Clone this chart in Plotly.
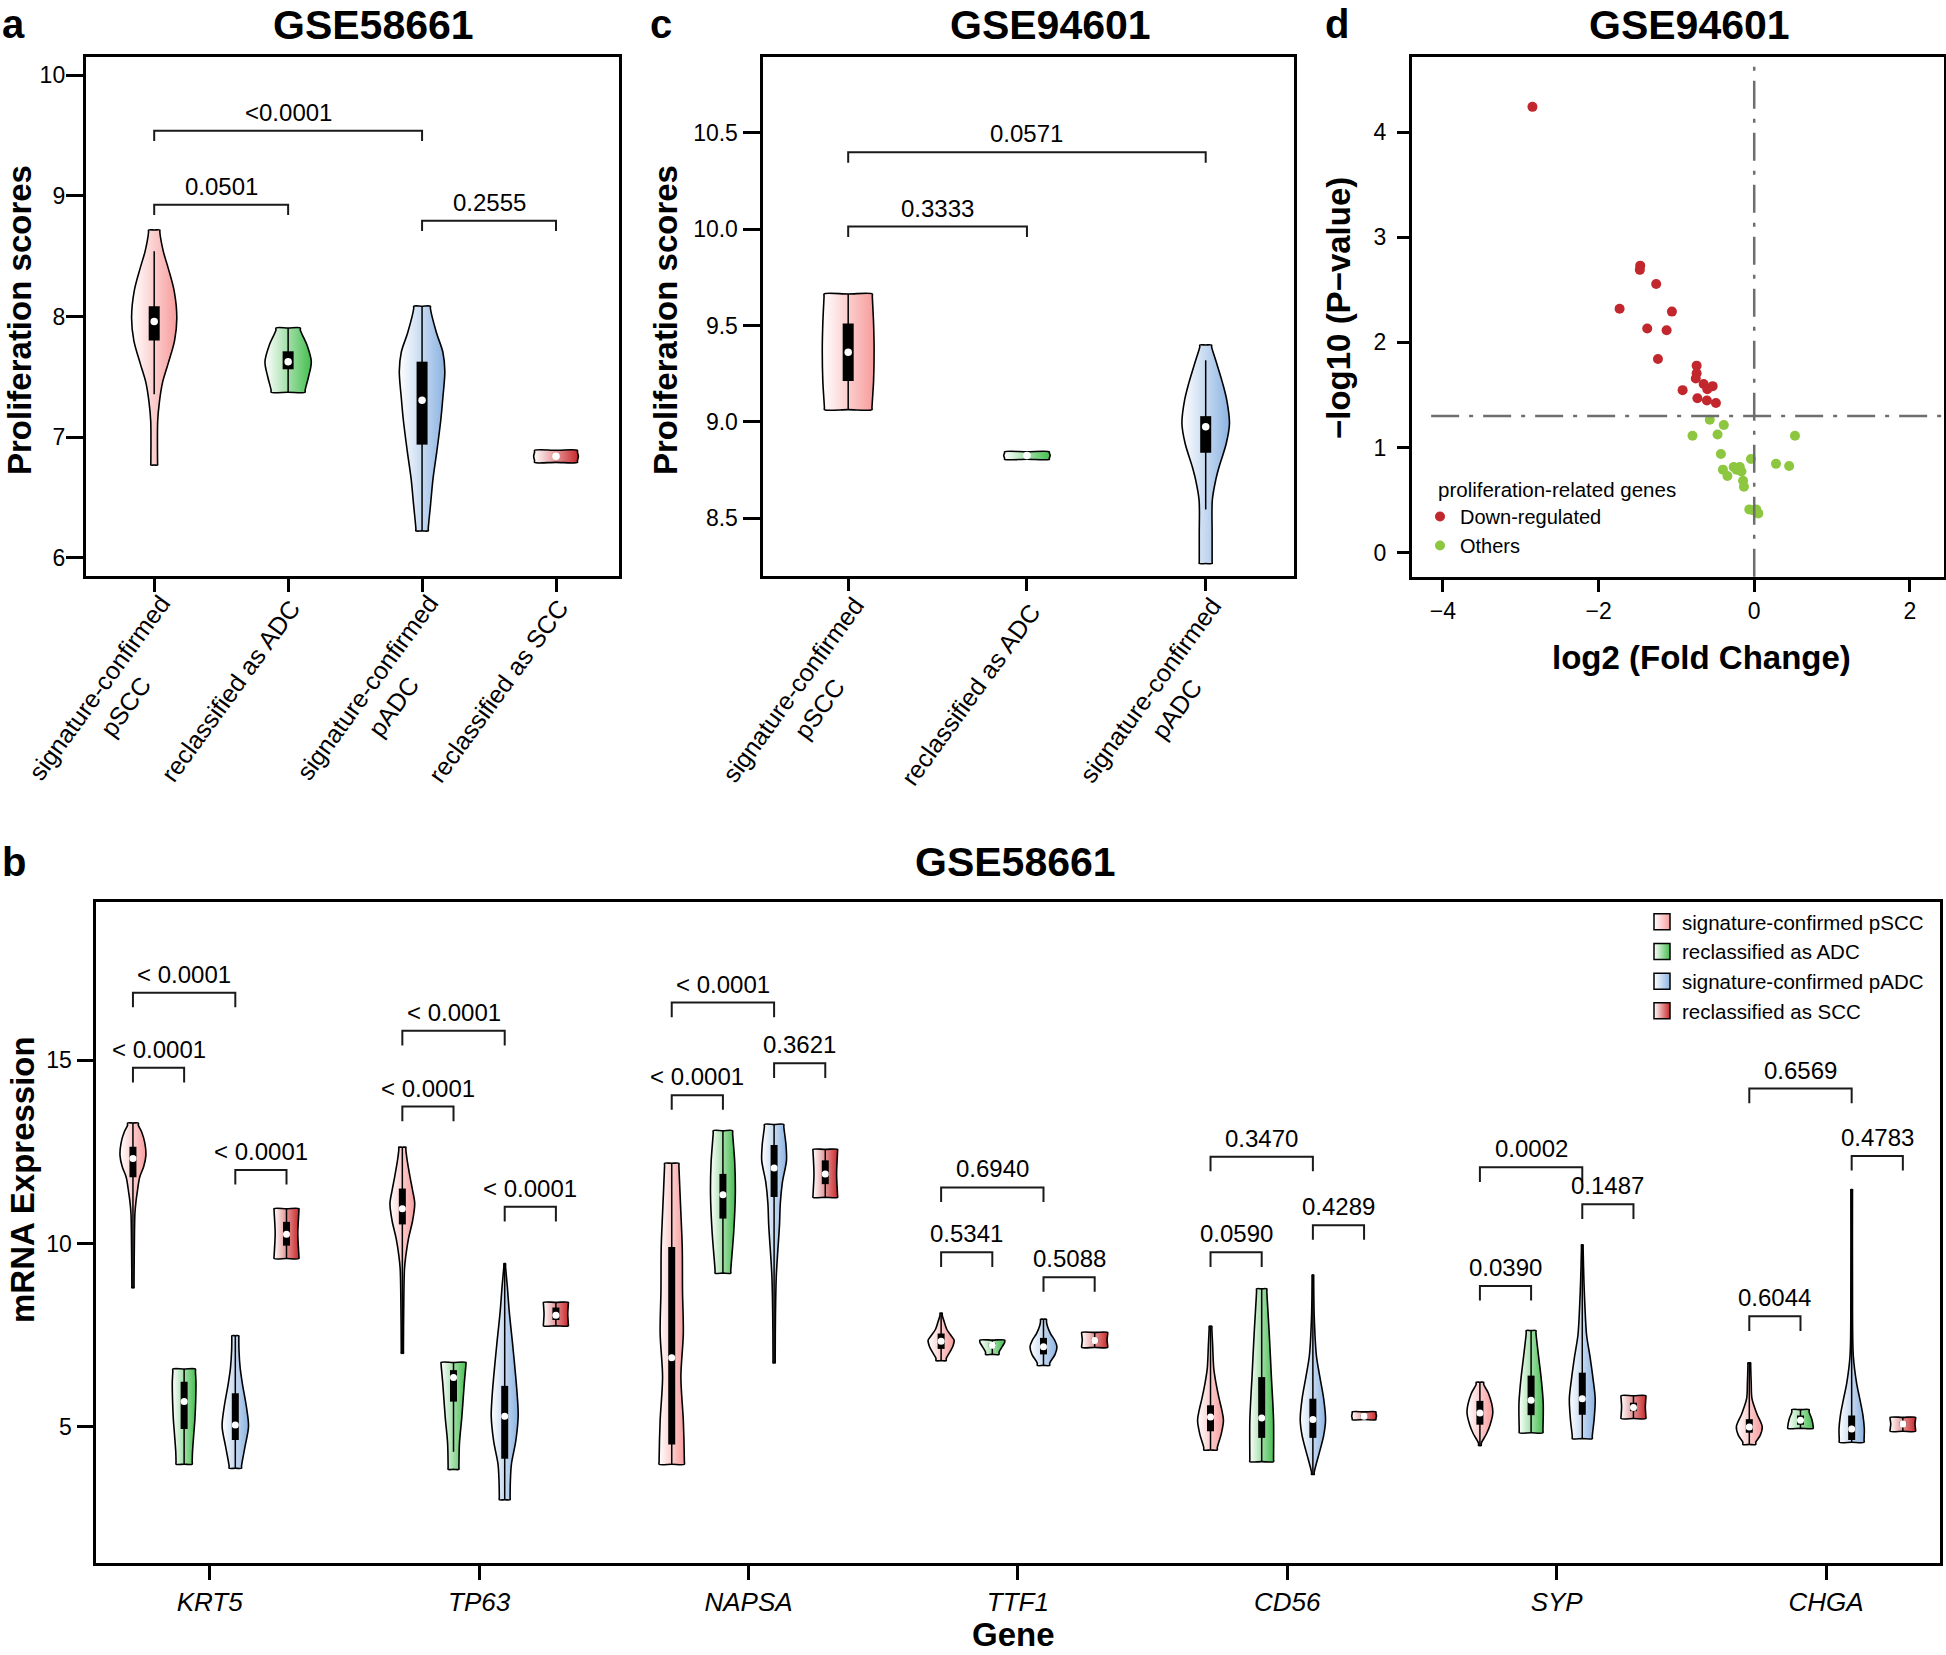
import plotly.graph_objects as go

W, H = 1946, 1655
FONT = "Liberation Sans, Arial, Helvetica, sans-serif"

GROUP_NAMES = ["signature-confirmed pSCC", "reclassified as ADC",
               "signature-confirmed pADC", "reclassified as SCC"]
GROUP_COLORS = ["#F89C9C", "#45BE50", "#8CB3E2", "#C9282B"]

# ---------------- Panel a : GSE58661 proliferation scores ----------------
A_GROUPS = ["signature-confirmed<br>pSCC", "reclassified as ADC",
            "signature-confirmed<br>pADC", "reclassified as SCC"]
A_VIOLIN_Y = [
    [8.717, 8.540, 8.403, 8.212, 7.991, 7.800, 7.609, 7.451, 7.292, 7.133, 6.768],
    [7.904, 7.768, 7.625, 7.498, 7.371],
    [8.085, 7.863, 7.705, 7.546, 7.324, 7.133, 6.879, 6.657, 6.435, 6.222],
    [6.890, 6.840, 6.790],
]
A_VIOLIN_HW = [
    [0.042, 0.068, 0.104, 0.149, 0.169, 0.152, 0.104, 0.062, 0.039, 0.026, 0.025],
    [0.091, 0.139, 0.173, 0.152, 0.127],
    [0.062, 0.108, 0.155, 0.170, 0.155, 0.139, 0.110, 0.082, 0.063, 0.046],
    [0.160, 0.167, 0.160],
]
A_Q1 = [7.800, 7.562, 6.937, 6.840]
A_MED = [7.958, 7.625, 7.305, 6.840]
A_Q3 = [8.085, 7.711, 7.625, 6.840]
A_WLO = [7.355, 7.371, 6.222, 6.840]
A_WHI = [8.540, 7.904, 8.085, 6.840]
A_PAIRS = [(1, 3), (1, 2), (3, 4)]
A_PLEVEL = [9.540, 8.927, 8.794]
A_PTEXT = ["<0.0001", "0.0501", "0.2555"]

# ---------------- Panel c : GSE94601 proliferation scores ----------------
C_GROUPS = ["signature-confirmed<br>pSCC", "reclassified as ADC",
            "signature-confirmed<br>pADC"]
C_VIOLIN_Y = [
    [9.664, 9.511, 9.372, 9.213, 9.064],
    [8.845, 8.826, 8.806],
    [9.399, 9.320, 9.200, 9.113, 8.992, 8.888, 8.767, 8.698, 8.594, 8.420, 8.265],
]
C_VIOLIN_HW = [
    [0.135, 0.142, 0.145, 0.142, 0.133],
    [0.125, 0.130, 0.125],
    [0.033, 0.056, 0.095, 0.118, 0.133, 0.115, 0.075, 0.056, 0.037, 0.036, 0.036],
]
C_Q1 = [9.213, 8.826, 8.840]
C_MED = [9.362, 8.826, 8.975]
C_Q3 = [9.511, 8.826, 9.030]
C_WLO = [9.064, 8.826, 8.546]
C_WHI = [9.664, 8.826, 9.320]
C_PAIRS = [(1, 3), (1, 2)]
C_PLEVEL = [10.399, 10.014]
C_PTEXT = ["0.0571", "0.3333"]

# ---------------- Panel d : volcano plot ----------------
D_DOWN_X = [-2.85, -1.465, -1.47, -1.26, -1.73, -1.058, -1.375, -1.126, -1.237, -0.740,
            -0.740, -0.751, -0.650, -0.534, -0.603, -0.920, -0.730, -0.608, -0.492]
D_DOWN_Y = [4.24, 2.73, 2.69, 2.556, 2.32, 2.293, 2.132, 2.115, 1.843, 1.779,
            1.707, 1.656, 1.605, 1.584, 1.554, 1.546, 1.469, 1.448, 1.423]
D_OTHER_X = [-0.571, -0.391, -0.793, -0.471, 0.524, -0.428, -0.042, 0.280, 0.449, -0.264,
             -0.185, -0.402, -0.227, -0.164, -0.344, -0.143, -0.132, -0.063, 0.026, 0.053, -0.011]
D_OTHER_Y = [1.265, 1.214, 1.113, 1.125, 1.113, 0.938, 0.892, 0.845, 0.824, 0.815,
             0.815, 0.790, 0.790, 0.773, 0.730, 0.684, 0.628, 0.412, 0.412, 0.374, 0.403]
D_P_CUTOFF = 1.301   # -log10(0.05)
D_FC_CUTOFF = 0.0

# ---------------- Panel b : GSE58661 mRNA expression ----------------
GENES = ["KRT5", "TP63", "NAPSA", "TTF1", "CD56", "SYP", "CHGA"]
B_VIOLIN_Y = {
    "KRT5": [[13.29, 13.05, 12.75, 12.40, 12.10, 11.81, 11.40, 11.13, 10.83, 9.80, 8.79],
             [6.57, 6.20, 5.72, 5.20, 4.81, 4.30, 3.97],
             [7.48, 7.09, 6.60, 6.18, 5.50, 5.00, 4.45, 3.86],
             [10.95, 10.27, 9.59]],
    "TP63": [[12.63, 12.27, 11.80, 11.45, 11.09, 10.62, 10.14, 9.67, 9.31, 8.13, 7.00],
             [6.75, 6.18, 5.27, 4.54, 3.83],
             [9.45, 8.80, 8.13, 7.20, 6.35, 5.80, 5.28, 4.60, 3.98, 3.50, 3.00],
             [8.39, 8.07, 7.75]],
    "NAPSA": [[12.19, 11.00, 9.90, 8.70, 7.54, 6.35, 5.17, 3.97],
              [13.08, 12.20, 11.33, 10.30, 9.19],
              [13.25, 12.70, 12.27, 11.68, 11.09, 10.50, 9.60, 9.08, 8.00, 6.74],
              [12.57, 11.90, 11.26]],
    "TTF1": [[8.10, 7.85, 7.65, 7.45, 7.36, 7.20, 7.05, 6.80],
             [7.36, 7.22, 6.97],
             [7.93, 7.75, 7.54, 7.35, 7.18, 6.97, 6.67],
             [7.57, 7.36, 7.16]],
    "CD56": [[7.74, 7.20, 6.59, 6.20, 5.76, 5.45, 5.17, 4.80, 4.36],
             [8.76, 7.54, 6.35, 5.17, 4.04],
             [9.14, 8.00, 6.94, 6.35, 5.76, 5.17, 4.75, 4.34, 3.69],
             [5.40, 5.28, 5.19]],
    "SYP": [[6.21, 5.90, 5.40, 5.05, 4.81, 4.48],
            [7.62, 6.90, 6.35, 5.64, 4.83],
            [9.96, 9.00, 8.25, 7.50, 6.94, 6.30, 5.76, 5.20, 4.67],
            [5.84, 5.53, 5.22]],
    "CHGA": [[6.74, 6.20, 5.76, 5.35, 4.99, 4.75, 4.51],
             [5.46, 5.20, 4.95],
             [11.47, 9.00, 6.94, 6.20, 5.76, 5.30, 4.93, 4.57],
             [5.25, 5.07, 4.87]],
}
B_VIOLIN_HW = {
    "KRT5": [[0.020, 0.032, 0.044, 0.048, 0.040, 0.025, 0.016, 0.011, 0.0074, 0.005, 0.004],
             [0.042, 0.044, 0.043, 0.040, 0.036, 0.031, 0.030],
             [0.013, 0.0136, 0.018, 0.026, 0.042, 0.049, 0.036, 0.023],
             [0.046, 0.042, 0.046]],
    "TP63": [[0.013, 0.018, 0.029, 0.038, 0.046, 0.038, 0.023, 0.013, 0.008, 0.005, 0.004],
             [0.046, 0.040, 0.031, 0.022, 0.020],
             [0.003, 0.010, 0.017, 0.030, 0.041, 0.047, 0.050, 0.041, 0.025, 0.021, 0.020],
             [0.046, 0.044, 0.046]],
    "NAPSA": [[0.0265, 0.033, 0.039, 0.040, 0.043, 0.034, 0.043, 0.047],
              [0.036, 0.044, 0.046, 0.040, 0.029],
              [0.036, 0.044, 0.046, 0.031, 0.023, 0.020, 0.012, 0.008, 0.005, 0.004],
              [0.0455, 0.042, 0.0455]],
    "TTF1": [[0.004, 0.012, 0.0213, 0.040, 0.0483, 0.044, 0.034, 0.019],
             [0.046, 0.040, 0.025],
             [0.011, 0.014, 0.026, 0.042, 0.050, 0.043, 0.023],
             [0.048, 0.046, 0.048]],
    "CD56": [[0.005, 0.008, 0.012, 0.020, 0.032, 0.042, 0.048, 0.040, 0.025],
             [0.019, 0.028, 0.036, 0.044, 0.044],
             [0.003, 0.005, 0.013, 0.026, 0.040, 0.047, 0.040, 0.026, 0.005],
             [0.044, 0.046, 0.044]],
    "SYP": [[0.014, 0.032, 0.048, 0.038, 0.025, 0.005],
            [0.018, 0.028, 0.037, 0.045, 0.044],
            [0.003, 0.006, 0.010, 0.016, 0.028, 0.040, 0.048, 0.044, 0.037],
            [0.046, 0.044, 0.046]],
    "CHGA": [[0.005, 0.007, 0.010, 0.028, 0.048, 0.040, 0.024],
             [0.032, 0.042, 0.047],
             [0.003, 0.003, 0.006, 0.018, 0.030, 0.042, 0.047, 0.046],
             [0.047, 0.045, 0.047]],
}
# box statistics per gene: [pSCC, ADC, pADC, SCC]
B_Q1 = {"KRT5": [11.81, 4.93, 4.63, 9.94], "TP63": [10.52, 5.68, 4.12, 7.91],
        "NAPSA": [4.51, 10.68, 11.27, 11.62], "TTF1": [7.12, 7.17, 6.97, 7.30],
        "CD56": [4.87, 4.69, 4.69, 5.25], "SYP": [5.05, 5.31, 5.32, 5.42],
        "CHGA": [4.83, 5.05, 4.63, 5.02]}
B_MED = {"KRT5": [12.32, 5.68, 5.04, 10.25], "TP63": [10.95, 6.34, 5.28, 8.04],
         "NAPSA": [6.88, 11.33, 12.06, 11.90], "TTF1": [7.33, 7.22, 7.18, 7.35],
         "CD56": [5.26, 5.23, 5.19, 5.28], "SYP": [5.37, 5.72, 5.76, 5.52],
         "CHGA": [4.99, 5.17, 4.93, 5.07]}
B_Q3 = {"KRT5": [12.64, 6.22, 5.91, 10.59], "TP63": [11.50, 6.54, 6.11, 8.25],
        "NAPSA": [9.90, 11.90, 12.69, 12.27], "TTF1": [7.54, 7.28, 7.42, 7.40],
        "CD56": [5.58, 6.35, 5.76, 5.31], "SYP": [5.70, 6.39, 6.47, 5.65],
        "CHGA": [5.20, 5.30, 5.30, 5.12]}
B_WLO = {"KRT5": [8.79, 3.97, 3.86, 9.59], "TP63": [7.00, 4.31, 3.00, 7.75],
         "NAPSA": [3.97, 9.19, 6.74, 11.26], "TTF1": [6.80, 6.97, 6.67, 7.16],
         "CD56": [4.36, 4.04, 3.69, 5.19], "SYP": [4.48, 4.83, 4.67, 5.22],
         "CHGA": [4.51, 4.95, 4.57, 4.87]}
B_WHI = {"KRT5": [13.29, 6.57, 7.48, 10.95], "TP63": [12.63, 6.75, 9.45, 8.39],
         "NAPSA": [12.19, 13.08, 13.25, 12.57], "TTF1": [8.10, 7.36, 7.93, 7.57],
         "CD56": [7.74, 8.76, 9.14, 5.40], "SYP": [6.21, 7.62, 9.96, 5.84],
         "CHGA": [6.74, 5.46, 11.47, 5.25]}
B_PAIRS = [(0, 2), (0, 1), (2, 3)]
B_PLEVEL = {"KRT5": [16.85, 14.80, 12.01], "TP63": [15.81, 13.74, 11.00],
            "NAPSA": [16.58, 14.05, 14.92], "TTF1": [11.53, 9.76, 9.08],
            "CD56": [12.37, 9.76, 10.50], "SYP": [12.08, 8.84, 11.07],
            "CHGA": [14.23, 8.01, 12.39]}
B_PTEXT = {"KRT5": ["< 0.0001", "< 0.0001", "< 0.0001"],
           "TP63": ["< 0.0001", "< 0.0001", "< 0.0001"],
           "NAPSA": ["< 0.0001", "< 0.0001", "0.3621"],
           "TTF1": ["0.6940", "0.5341", "0.5088"],
           "CD56": ["0.3470", "0.0590", "0.4289"],
           "SYP": ["0.0002", "0.0390", "0.1487"],
           "CHGA": ["0.6569", "0.6044", "0.4783"]}
B_OFFSETS = [-0.285, -0.095, 0.095, 0.285]

# ======================================================================
fig = go.Figure()
annotations = []


def px_x(v):
    return v / W


def px_y(v):
    return 1 - v / H


def add_violin(xa, ya, center, ys, hws, color, eps, box, med, whisk, boxw, dotsize):
    ys = list(ys)
    hws = list(hws)
    e = min(eps, 0.15 * (ys[0] - ys[-1]))
    rx, ry = [], []
    rx += [center + hws[0], center + hws[0]]
    ry += [ys[0], ys[0] - e]
    for y, h in zip(ys[1:-1], hws[1:-1]):
        rx.append(center + h)
        ry.append(y)
    rx += [center + hws[-1], center + hws[-1]]
    ry += [ys[-1] + e, ys[-1]]
    xs = [center] + rx + [center] + [2 * center - v for v in rx[::-1]] + [center]
    yv = [ys[0]] + ry + [ys[-1]] + ry[::-1] + [ys[0]]
    fig.add_trace(go.Scatter(
        x=xs, y=yv, xaxis=xa, yaxis=ya, mode="lines", fill="toself",
        line=dict(color="black", width=1.6, shape="spline", smoothing=0.9),
        fillgradient=dict(type="horizontal", colorscale=[[0, "#FFFFFF"], [1, color]]),
        hoverinfo="skip", showlegend=False))
    if whisk[1] > whisk[0]:
        fig.add_trace(go.Scatter(x=[center, center], y=list(whisk), xaxis=xa, yaxis=ya,
                                 mode="lines", line=dict(color="black", width=1.5),
                                 hoverinfo="skip", showlegend=False))
    if box[1] > box[0]:
        fig.add_trace(go.Scatter(x=[center, center], y=list(box), xaxis=xa, yaxis=ya,
                                 mode="lines", line=dict(color="black", width=boxw),
                                 hoverinfo="skip", showlegend=False))
    fig.add_trace(go.Scatter(x=[center], y=[med], xaxis=xa, yaxis=ya, mode="markers",
                             marker=dict(color="white", size=dotsize, line=dict(width=0)),
                             hoverinfo="skip", showlegend=False))


def add_bracket(xa, ya, x1, x2, level, leg, text, size, xref, yref):
    fig.add_trace(go.Scatter(x=[x1, x1, x2, x2], y=[level - leg, level, level, level - leg],
                             xaxis=xa, yaxis=ya, mode="lines",
                             line=dict(color="#1a1a1a", width=2),
                             hoverinfo="skip", showlegend=False))
    annotations.append(dict(x=(x1 + x2) / 2, y=level, xref=xref, yref=yref, text=text,
                            showarrow=False, xanchor="center", yanchor="bottom", yshift=3,
                            font=dict(size=size, family=FONT, color="black")))


# ---- panel a
for i in range(4):
    add_violin("x", "y", i + 1, A_VIOLIN_Y[i], A_VIOLIN_HW[i], GROUP_COLORS[i], 0.017,
               (A_Q1[i], A_Q3[i]), A_MED[i], (A_WLO[i], A_WHI[i]), 11, 7.5)
for (g1, g2), lv, t in zip(A_PAIRS, A_PLEVEL, A_PTEXT):
    add_bracket("x", "y", g1, g2, lv, 0.085, t, 24, "x", "y")

# ---- panel c
for i in range(3):
    add_violin("x2", "y2", i + 1, C_VIOLIN_Y[i], C_VIOLIN_HW[i], GROUP_COLORS[i], 0.01,
               (C_Q1[i], C_Q3[i]), C_MED[i], (C_WLO[i], C_WHI[i]), 11, 7.5)
for (g1, g2), lv, t in zip(C_PAIRS, C_PLEVEL, C_PTEXT):
    add_bracket("x2", "y2", g1, g2, lv, 0.054, t, 24, "x2", "y2")

# ---- panel d
fig.add_trace(go.Scatter(x=D_DOWN_X, y=D_DOWN_Y, xaxis="x3", yaxis="y3", mode="markers",
                         name="Down-regulated", legend="legend2",
                         marker=dict(color="#C1272D", size=10)))
fig.add_trace(go.Scatter(x=D_OTHER_X, y=D_OTHER_Y, xaxis="x3", yaxis="y3", mode="markers",
                         name="Others", legend="legend2",
                         marker=dict(color="#8DC63F", size=10)))

# ---- panel b
for gi, gname in enumerate(GENES):
    for k in range(4):
        c = gi + B_OFFSETS[k]
        add_violin("x4", "y4", c, B_VIOLIN_Y[gname][k], B_VIOLIN_HW[gname][k], GROUP_COLORS[k],
                   0.06, (B_Q1[gname][k], B_Q3[gname][k]), B_MED[gname][k],
                   (B_WLO[gname][k], B_WHI[gname][k]), 7, 7)
    for (k1, k2), lv, t in zip(B_PAIRS, B_PLEVEL[gname], B_PTEXT[gname]):
        add_bracket("x4", "y4", gi + B_OFFSETS[k1], gi + B_OFFSETS[k2], lv, 0.4, t, 24, "x4", "y4")

# legend entries for panel b
for name, col in zip(GROUP_NAMES, GROUP_COLORS):
    fig.add_trace(go.Scatter(x=[None], y=[None], xaxis="x4", yaxis="y4", mode="markers",
                             name=name, legend="legend",
                             marker=dict(symbol="square", size=16, color="#FFFFFF",
                                         gradient=dict(type="horizontal", color=col),
                                         line=dict(color="black", width=1.5))))

# ---- reference lines in panel d
shapes = [
    dict(type="line", xref="x3", yref="y3 domain", x0=D_FC_CUTOFF, x1=D_FC_CUTOFF, y0=0.0, y1=0.982,
         line=dict(color="#6e6e6e", width=2.5, dash="28px,10px,4px,10px")),
    dict(type="line", xref="x3 domain", yref="y3", x0=0.036, x1=1.0, y0=D_P_CUTOFF, y1=D_P_CUTOFF,
         line=dict(color="#6e6e6e", width=2.5, dash="28px,10px,4px,10px")),
]

# ---- rotated category labels (panels a, c)
A_FRAME_BOTTOM = 576.3
C_FRAME_BOTTOM = 575.5
for i, lab in enumerate(A_GROUPS):
    two = "<br>" in lab
    annotations.append(dict(x=i + 1, y=px_y(A_FRAME_BOTTOM), xref="x", yref="paper", text=lab,
                            showarrow=False, textangle=-54, xanchor="center", yanchor="middle",
                            xshift=-42 if two else -58, yshift=-121 if two else -114.5,
                            align="center", font=dict(size=25, family=FONT, color="black")))
for i, lab in enumerate(C_GROUPS):
    two = "<br>" in lab
    annotations.append(dict(x=i + 1, y=px_y(C_FRAME_BOTTOM), xref="x2", yref="paper", text=lab,
                            showarrow=False, textangle=-54, xanchor="center", yanchor="middle",
                            xshift=-42 if two else -56, yshift=-124 if two else -118.5,
                            align="center", font=dict(size=25, family=FONT, color="black")))


def text_ann(text, x, y, size, bold=True, angle=0, xanchor="center", yanchor="middle"):
    t = "<b>%s</b>" % text if bold else text
    annotations.append(dict(x=px_x(x), y=px_y(y), xref="paper", yref="paper", text=t,
                            showarrow=False, textangle=angle, xanchor=xanchor, yanchor=yanchor,
                            font=dict(size=size, family=FONT, color="black")))


# panel letters & titles (top row anchored at the top edge)
text_ann("a", 13, 0, 40, yanchor="top")
text_ann("c", 661, 0, 40, yanchor="top")
text_ann("d", 1337, 0, 40, yanchor="top")
text_ann("b", 14, 862, 40)
text_ann("GSE58661", 373, 0, 41, yanchor="top")
text_ann("GSE94601", 1050, 0, 41, yanchor="top")
text_ann("GSE94601", 1689, 0, 41, yanchor="top")
text_ann("GSE58661", 1015, 862, 41)
# axis titles
text_ann("Proliferation scores", 20, 320, 33, angle=-90)
text_ann("Proliferation scores", 666, 320, 33, angle=-90)
text_ann("\u2212log10 (P\u2212value)", 1339, 308, 33, angle=-90)
text_ann("log2 (Fold Change)", 1701, 657, 33)
text_ann("mRNA Expression", 22, 1180, 33, angle=-90)
text_ann("Gene", 1013, H, 33, yanchor="bottom")
# legend title for panel d
text_ann("proliferation-related genes", 1436, 490, 20.5, bold=False, xanchor="left")

axis_common = dict(showline=True, mirror=True, linecolor="black", linewidth=3,
                   ticks="outside", tickcolor="black", tickwidth=2.5,
                   showgrid=False, zeroline=False,
                   tickfont=dict(size=23, family=FONT, color="black"))

fig.update_layout(
    width=W, height=H, margin=dict(l=0, r=0, t=0, b=0),
    paper_bgcolor="white", plot_bgcolor="white",
    font=dict(family=FONT, color="black"),
    showlegend=True,
    xaxis=dict(domain=[px_x(85.8), px_x(618.6)], range=[0.4893, 4.4674], anchor="y",
               tickvals=[1, 2, 3, 4], showticklabels=False, ticklen=13, **axis_common),
    yaxis=dict(domain=[px_y(A_FRAME_BOTTOM), px_y(56.6)], range=[5.845, 10.155], anchor="x",
               tickvals=[6, 7, 8, 9, 10], ticklen=17, ticklabelstandoff=-4, **axis_common),
    xaxis2=dict(domain=[px_x(762.5), px_x(1294)], range=[0.5206, 3.494], anchor="y2",
                tickvals=[1, 2, 3], showticklabels=False, ticklen=12, **axis_common),
    yaxis2=dict(domain=[px_y(C_FRAME_BOTTOM), px_y(56.6)], range=[8.203, 10.896], anchor="x2",
                tickvals=[8.5, 9.0, 9.5, 10.0, 10.5], tickformat=".1f", ticklen=17, **axis_common),
    xaxis3=dict(domain=[px_x(1412), px_x(1943.6)], range=[-4.398, 2.434], anchor="y3",
                tickvals=[-4, -2, 0, 2], ticklen=12, **axis_common),
    yaxis3=dict(domain=[px_y(576.8), px_y(56.7)], range=[-0.229, 4.717], anchor="x3",
                tickvals=[0, 1, 2, 3, 4], ticklen=12, ticklabelstandoff=6, **axis_common),
    xaxis4=dict(domain=[px_x(95.5), px_x(1940.3)], range=[-0.424, 6.424], anchor="y4",
                tickvals=list(range(len(GENES))), ticktext=["<i>%s</i>" % g for g in GENES],
                ticklen=14, showline=True, mirror=True, linecolor="black", linewidth=3,
                ticks="outside", tickcolor="black", tickwidth=2.5,
                showgrid=False, zeroline=False,
                tickfont=dict(size=26, family=FONT, color="black")),
    yaxis4=dict(domain=[px_y(1562.7), px_y(902)], range=[1.28, 19.327], anchor="x4",
                tickvals=[5, 10, 15], ticklen=16, **axis_common),
    legend=dict(x=px_x(1642), y=px_y(902), xanchor="left", yanchor="top",
                bgcolor="rgba(0,0,0,0)", font=dict(size=20.5, family=FONT, color="black"),
                tracegroupgap=0, itemsizing="trace"),
    legend2=dict(x=px_x(1420), y=px_y(497), xanchor="left", yanchor="top",
                 bgcolor="rgba(0,0,0,0)", font=dict(size=20, family=FONT, color="black"),
                 tracegroupgap=0),
    annotations=annotations,
    shapes=shapes,
)

fig.write_html("out.html", config={"displayModeBar": False},
               post_script="document.body.style.margin='0px';")
